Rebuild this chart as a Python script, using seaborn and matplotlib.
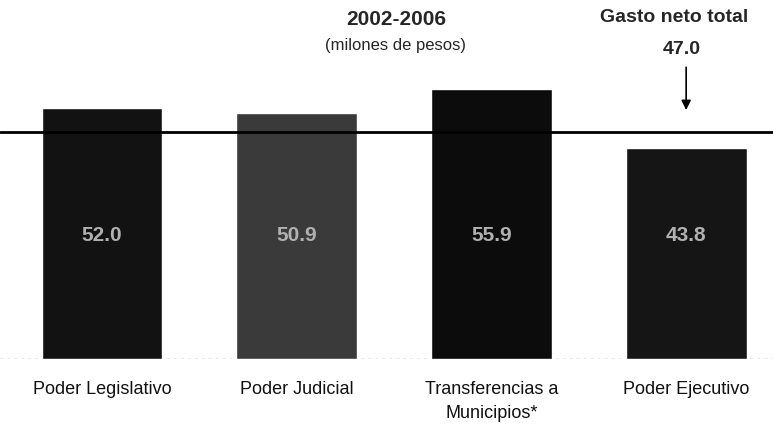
import pandas as pd
import matplotlib.pyplot as plt
import seaborn as sns

CATEGORIES = ["Poder Legislativo", "Poder Judicial", "Transferencias a\nMunicipios*", "Poder Ejecutivo"]
VALUES = [52.0, 50.9, 55.9, 43.8]
VALUE_LABELS = ["52.0", "50.9", "55.9", "43.8"]
TOTAL = 47.0
TOTAL_LABEL = "47.0"

BAR_COLORS = ["#121212", "#3a3a3a", "#0c0c0c", "#151515"]

sns.set_theme(style="white")
plt.rcParams["font.family"] = ["Liberation Sans", "DejaVu Sans"]

df = pd.DataFrame({"Categoria": CATEGORIES, "Valor": VALUES})

fig = plt.figure(figsize=(7.73, 4.33), dpi=100)
ax = fig.add_axes([0.0, 0.171, 1.0, 0.644])

sns.barplot(
    data=df,
    x="Categoria",
    y="Valor",
    hue="Categoria",
    palette=BAR_COLORS,
    legend=False,
    width=0.62,
    saturation=1,
    ax=ax,
)

for patch, label in zip(ax.patches, VALUE_LABELS):
    cx = patch.get_x() + patch.get_width() / 2
    ax.text(cx, 25.5, label, ha="center", va="center", fontsize=15,
            color="#b0b0b0", fontweight="bold")

ax.axhline(TOTAL, color="black", lw=2, zorder=5)
ax.axhline(0, color="#888888", lw=1, ls=(0, (2, 3)), zorder=0)

ax.set_xlim(-0.524, 3.446)
ax.set_ylim(0, 57.77)
ax.set_xlabel("")
ax.set_ylabel("")
ax.set_yticks([])
ax.tick_params(axis="x", length=0, pad=16, labelsize=13, colors="#111111")
for lbl in ax.get_xticklabels():
    lbl.set_linespacing(1.5)
for s in ax.spines.values():
    s.set_visible(False)

# titulo
fig.text(0.512, 0.955, "2002-2006", ha="center", va="center", fontsize=15, fontweight="bold")
fig.text(0.512, 0.895, "(milones de pesos)", ha="center", va="center", fontsize=12)

# anotacion gasto neto
fig.text(0.872, 0.96, "Gasto neto total", ha="center", va="center", fontsize=14,
         fontweight="bold")
fig.text(0.882, 0.885, TOTAL_LABEL, ha="center", va="center", fontsize=14, fontweight="bold")
ax.annotate("", xy=(3.0, 51.0), xytext=(3.0, 61.0),
            arrowprops=dict(arrowstyle="-|>", color="black", lw=1.2, mutation_scale=14),
            annotation_clip=False)

fig.savefig("out.png", dpi=100)
